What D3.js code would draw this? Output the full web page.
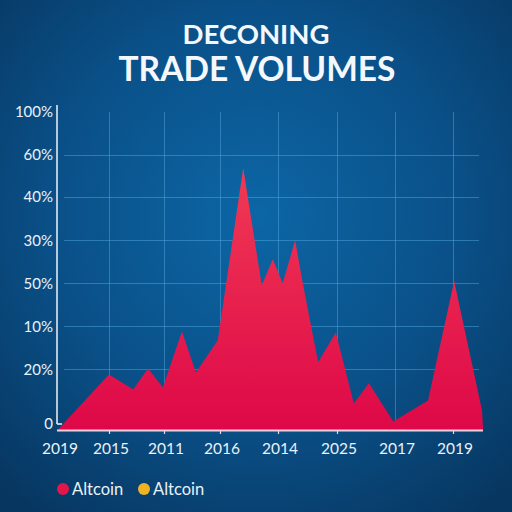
<!DOCTYPE html>
<html>
<head>
<meta charset="utf-8">
<script src="https://cdn.jsdelivr.net/npm/d3@7"></script>
<style>
  html, body { margin: 0; padding: 0; background: #083a66; }
  svg { display: block; }
</style>
</head>
<body>
<svg id="chart" width="512" height="512"></svg>
<script>
// ---- data ----
const titleLine1 = "DECONING";
const titleLine2 = "TRADE VOLUMES";
const xLabels = ["2019", "2015", "2011", "2016", "2014", "2025", "2017", "2019"];
const yLabels = ["0", "20%", "10%", "50%", "30%", "40%", "60%", "100%"];
const yLabelValues = [2.2, 19.2, 32.7, 46.2, 59.7, 73.3, 86.5, 100];
// position along the x axis in category steps, and value
const seriesT = [0.09, 1.00, 1.44, 1.71, 1.98, 2.32, 2.57, 2.96, 3.40, 3.72, 3.91, 4.08, 4.29, 4.42, 4.68, 4.98, 5.29, 5.55, 5.97, 6.57, 7.02, 7.50, 7.52];
const seriesV = [0, 17.6, 12.9, 19.5, 13.5, 31.1, 18.2, 28.3, 82.4, 45.6, 53.8, 46.2, 59.7, 46.2, 21.4, 30.8, 8.5, 14.8, 2.8, 9.4, 46.9, 6.3, 0];
const legendNames = ["Altcoin", "Altcoin"];
const legendColors = ["#e3164a", "#f0b423"];

// ---- layout ----
const svg = d3.select("#chart");
const W = 512, H = 512;
const baseY = 430.5, topY = 112;
const axisX = 57;

const defs = svg.append("defs");
const bg = defs.append("radialGradient").attr("id", "bg")
  .attr("cx", "0.5").attr("cy", "0.42").attr("r", "0.72");
bg.append("stop").attr("offset", "0%").attr("stop-color", "#0c66a5");
bg.append("stop").attr("offset", "55%").attr("stop-color", "#0a5088");
bg.append("stop").attr("offset", "100%").attr("stop-color", "#073761");
svg.append("rect").attr("width", W).attr("height", H).attr("fill", "url(#bg)");

const ag = defs.append("linearGradient").attr("id", "area")
  .attr("x1", 0).attr("y1", 0).attr("x2", 0).attr("y2", 1);
ag.append("stop").attr("offset", "0%").attr("stop-color", "#f03a54");
ag.append("stop").attr("offset", "100%").attr("stop-color", "#de0848");

const x = d3.scaleLinear().domain([0, 1, 2, 3, 4, 5, 6, 7])
  .range([52, 109, 164, 220, 278, 337, 395, 453]);
const y = d3.scaleLinear().domain([0, 100]).range([baseY, topY]);

// title
svg.append("text").text(titleLine1)
  .attr("x", 256).attr("y", 44).attr("text-anchor", "middle")
  .attr("font-family", "Lato").attr("font-weight", 700).attr("font-size", 27.5)
  .attr("fill", "#f4f8fc");
svg.append("text").text(titleLine2)
  .attr("x", 257).attr("y", 81).attr("text-anchor", "middle")
  .attr("font-family", "Lato").attr("font-weight", 700).attr("font-size", 33.5)
  .attr("fill", "#f4f8fc");

// grid
const grid = svg.append("g").attr("stroke", "#4fa6dc").attr("stroke-opacity", 0.5).attr("stroke-width", 1);
yLabelValues.slice(1, 7).forEach(v => {
  grid.append("line").attr("x1", 64).attr("x2", 479)
    .attr("y1", Math.round(y(v)) + 0.5).attr("y2", Math.round(y(v)) + 0.5);
});
d3.range(1, 8).forEach(i => {
  grid.append("line").attr("x1", Math.round(x(i)) + 0.5).attr("x2", Math.round(x(i)) + 0.5)
    .attr("y1", topY).attr("y2", baseY);
});

// area
const pts = seriesT.map((t, i) => [t, seriesV[i]]);
const area = d3.area().x(d => x(d[0])).y0(y(0)).y1(d => y(d[1])).curve(d3.curveLinear);
svg.append("path").datum(pts).attr("d", area).attr("fill", "url(#area)");

// axes
svg.append("line").attr("x1", axisX).attr("x2", axisX).attr("y1", 105).attr("y2", 424)
  .attr("stroke", "#eef4fa").attr("stroke-width", 1.5);
svg.append("line").attr("x1", axisX).attr("x2", axisX + 5).attr("y1", 424).attr("y2", 424)
  .attr("stroke", "#eef4fa").attr("stroke-width", 1.5);
svg.append("line").attr("x1", axisX).attr("x2", 483).attr("y1", baseY).attr("y2", baseY)
  .attr("stroke", "#f3cfe0").attr("stroke-width", 2);
[1, 2, 3, 4, 5, 7].forEach(i => {
  svg.append("line").attr("x1", Math.round(x(i)) + 0.5).attr("x2", Math.round(x(i)) + 0.5)
    .attr("y1", baseY).attr("y2", baseY + 3.5)
    .attr("stroke", "#f3cfe0").attr("stroke-width", 1.2);
});

// y labels
svg.append("g").selectAll("text").data(yLabels).join("text")
  .text(d => d)
  .attr("x", 53).attr("y", (d, i) => y(yLabelValues[i]))
  .attr("dy", "0.36em").attr("text-anchor", "end")
  .attr("font-family", "Lato").attr("font-size", 15).attr("fill", "#eaf2fa");

// x labels
svg.append("g").selectAll("text").data(xLabels).join("text")
  .text(d => d)
  .attr("x", (d, i) => x(i) + (i === 0 ? 8 : 2)).attr("y", 453.5)
  .attr("text-anchor", "middle")
  .attr("font-family", "Lato").attr("font-size", 15.5).attr("fill", "#eaf2fa");

// legend
const lg = svg.append("g");
const legX = [63, 144];
legendNames.forEach((n, i) => {
  lg.append("circle").attr("cx", legX[i]).attr("cy", 489).attr("r", 6).attr("fill", legendColors[i]);
  lg.append("text").text(n).attr("x", legX[i] + 9).attr("y", 495)
    .attr("font-family", "Lato").attr("font-size", 16.5).attr("fill", "#eaf2fa");
});
</script>
</body>
</html>
